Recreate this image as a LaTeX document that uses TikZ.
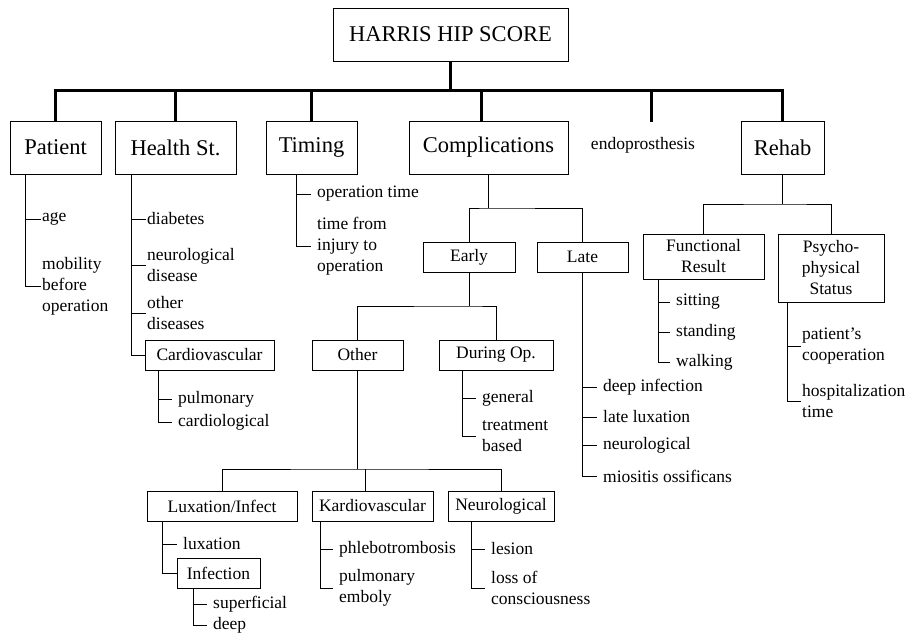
\documentclass[tikz,border=0pt]{standalone}
\usepackage{fontspec}
\setmainfont{Liberation Serif}

\begin{document}
\begin{tikzpicture}[x=1pt,y=-1pt,
	box/.style={draw,line width=1pt,inner sep=0pt,minimum height=30,align=center,font=\fontsize{17.5}{21}\selectfont},
	bigbox/.style={box,minimum height=53,font=\fontsize{22.5}{26}\selectfont},
	leaf/.style={anchor=west,inner xsep=1pt,inner ysep=0pt,align=left,font=\fontsize{17.5}{21}\selectfont},
	spaced/.style={inner xsep=6pt},
	bus/.style={line width=3pt},
	link/.style={line width=1pt}]

		\useasboundingbox (0,0) rectangle (907,635);

		\coordinate (bus) at (450.5,90.7);
		\coordinate (cjoin) at (488.5,208);
		\coordinate (ejoin) at (469,306);
		\coordinate (ojoin) at (357.5,469);
		\coordinate (rjoin) at (782.5,204);

		\node [bigbox,minimum width=235] (title) at (450.5,34.5) {HARRIS HIP SCORE};
		\node [bigbox,minimum width=91] (patient) at (55.5,147.5) {Patient};
		\node [bigbox,minimum width=121] (health) at (175.5,147.5) {Health St.};
		\node [bigbox,minimum width=91] (timing) at (311.5,147.5) {Timing};
		\node [bigbox,minimum width=159] (complic) at (488.5,147.5) {Complications};
		\node [leaf,anchor=center,minimum height=46] (endo) at (643,145) {endoprosthesis};
		\node [bigbox,minimum width=83] (rehab) at (782.5,147.5) {Rehab};

		\draw [bus] (patient.north) |- (bus) -| (rehab.north);
		\draw [bus] (title.south) -- (bus);
		\draw [bus] (health.north) -- (health.north |- bus);
		\draw [bus] (timing.north) -- (timing.north |- bus);
		\draw [bus] ([xshift=-7]complic.north) -- ([xshift=-7]complic.north |- bus);
		\draw [bus] ([xshift=8]endo.north) -- ([xshift=8]endo.north |- bus);

		% Patient
		\coordinate (pv) at (25,174);
		\node [leaf] (age) at (41,219) {age};
		\node [leaf] (mobility) at (41,286) {mobility\\before\\operation};
		\draw [link] (pv) |- (age.west);
		\draw [link] (pv) |- (mobility.west);

		% Health St.
		\coordinate (hv) at (131,174);
		\node [leaf] (diabetes) at (146,219) {diabetes};
		\node [leaf] (neurodis) at (146,265) {neurological\\disease};
		\node [leaf] (otherdis) at (146,313) {other\\diseases};
		\node [box,minimum width=129] (cardio) at (209.5,355) {Cardiovascular};
		\draw [link] (hv) |- (diabetes.west);
		\draw [link] (hv) |- (neurodis.west);
		\draw [link] (hv) |- (otherdis.west);
		\draw [link] (hv) |- (cardio.west);

		\coordinate (cv) at (158,370);
		\node [leaf,spaced] (pulmonary) at (172,399) {pulmonary};
		\node [leaf,spaced] (cardiol) at (172,422) {cardiological};
		\draw [link] (cv) |- (pulmonary.west);
		\draw [link] (cv) |- (cardiol.west);

		% Timing
		\coordinate (tv) at (296,174);
		\node [leaf,spaced] (optime) at (311,194) {operation time};
		\node [leaf,spaced] (injury) at (311,246) {time from\\injury to\\operation};
		\draw [link] (tv) |- (optime.west);
		\draw [link] (tv) |- (injury.west);

		% Complications
		\node [box,minimum width=92] (early) at (469,257) {Early};
		\node [box,minimum width=91] (late) at (582.5,257) {Late};
		\draw [link] (complic.south) -- (cjoin);
		\draw [link] (early.north) |- (cjoin) -| (late.north);

		\node [box,minimum width=91] (other) at (357.5,355) {Other};
		\node [box,minimum width=114] (duringop) at (496,355) {During Op.};
		\draw [link] (early.south) -- (ejoin);
		\draw [link] (other.north) |- (ejoin) -| (duringop.north);

		\coordinate (dv) at (462,370);
		\node [leaf,spaced] (general) at (476,398) {general};
		\node [leaf,spaced] (treatment) at (476,436) {treatment\\based};
		\draw [link] (dv) |- (general.west);
		\draw [link] (dv) |- (treatment.west);

		\node [box,minimum width=150] (luxinf) at (222,506) {Luxation/Infect};
		\node [box,minimum width=121] (kardio) at (372.5,506) {Kardiovascular};
		\node [box,minimum width=106] (neuro) at (501,506) {Neurological};
		\draw [link] (other.south) -- (ojoin);
		\draw [link] (luxinf.north) |- (ojoin) -| (neuro.north);
		\draw [link] ([xshift=-7]kardio.north) -- ([xshift=-7]kardio.north |- ojoin);

		\coordinate (lv) at (162,521);
		\node [leaf,spaced] (luxation) at (177,544) {luxation};
		\node [box,minimum width=83] (infection) at (218.5,573.5) {Infection};
		\draw [link] (lv) |- (luxation.west);
		\draw [link] (lv) |- (infection.west);

		\coordinate (iv) at (193,589);
		\node [leaf,spaced] (superficial) at (207,604) {superficial};
		\node [leaf,spaced] (deep) at (207,625) {deep};
		\draw [link] (iv) |- (superficial.west);
		\draw [link] (iv) |- (deep.west);

		\coordinate (kv) at (320,521);
		\node [leaf,spaced] (phlebo) at (333,549) {phlebotrombosis};
		\node [leaf,spaced] (emboly) at (333,588) {pulmonary\\emboly};
		\draw [link] (kv) |- (phlebo.west);
		\draw [link] (kv) |- (emboly.west);

		\coordinate (nv) at (471,521);
		\node [leaf,spaced] (lesion) at (485,549) {lesion};
		\node [leaf,spaced] (conscious) at (485,588) {loss of\\consciousness};
		\draw [link] (nv) |- (lesion.west);
		\draw [link] (nv) |- (conscious.west);

		\node [leaf,spaced] (deepinf) at (597,387) {deep infection};
		\node [leaf,spaced] (latelux) at (597,417) {late luxation};
		\node [leaf,spaced] (lateneuro) at (597,445) {neurological};
		\node [leaf,spaced] (miositis) at (597,476) {miositis ossificans};
		\draw [link] (late.south) |- (deepinf.west);
		\draw [link] (late.south) |- (latelux.west);
		\draw [link] (late.south) |- (lateneuro.west);
		\draw [link] (late.south) |- (miositis.west);

		% Rehab
		\node [box,minimum width=121,minimum height=45] (functional) at (703.5,256.5) {Functional\\Result};
		\node [box,minimum width=106,minimum height=68] (psycho) at (831,268) {Psycho-\\physical\\Status};
		\draw [link] (rehab.south) -- (rjoin);
		\draw [link] (functional.north) |- (rjoin) -| (psycho.north);

		\coordinate (fv) at (658,279);
		\node [leaf,spaced] (sitting) at (670,302) {sitting};
		\node [leaf,spaced] (standing) at (670,332) {standing};
		\node [leaf,spaced] (walking) at (670,362) {walking};
		\draw [link] (fv) |- (sitting.west);
		\draw [link] (fv) |- (standing.west);
		\draw [link] (fv) |- (walking.west);

		\coordinate (psv) at (787,302);
		\node [leaf] (cooperation) at (801,346) {patient’s\\cooperation};
		\node [leaf] (hospital) at (801,401) {hospitalization\\time};
		\draw [link] (psv) |- (cooperation.west);
		\draw [link] (psv) |- (hospital.west);

\end{tikzpicture}
\end{document}
